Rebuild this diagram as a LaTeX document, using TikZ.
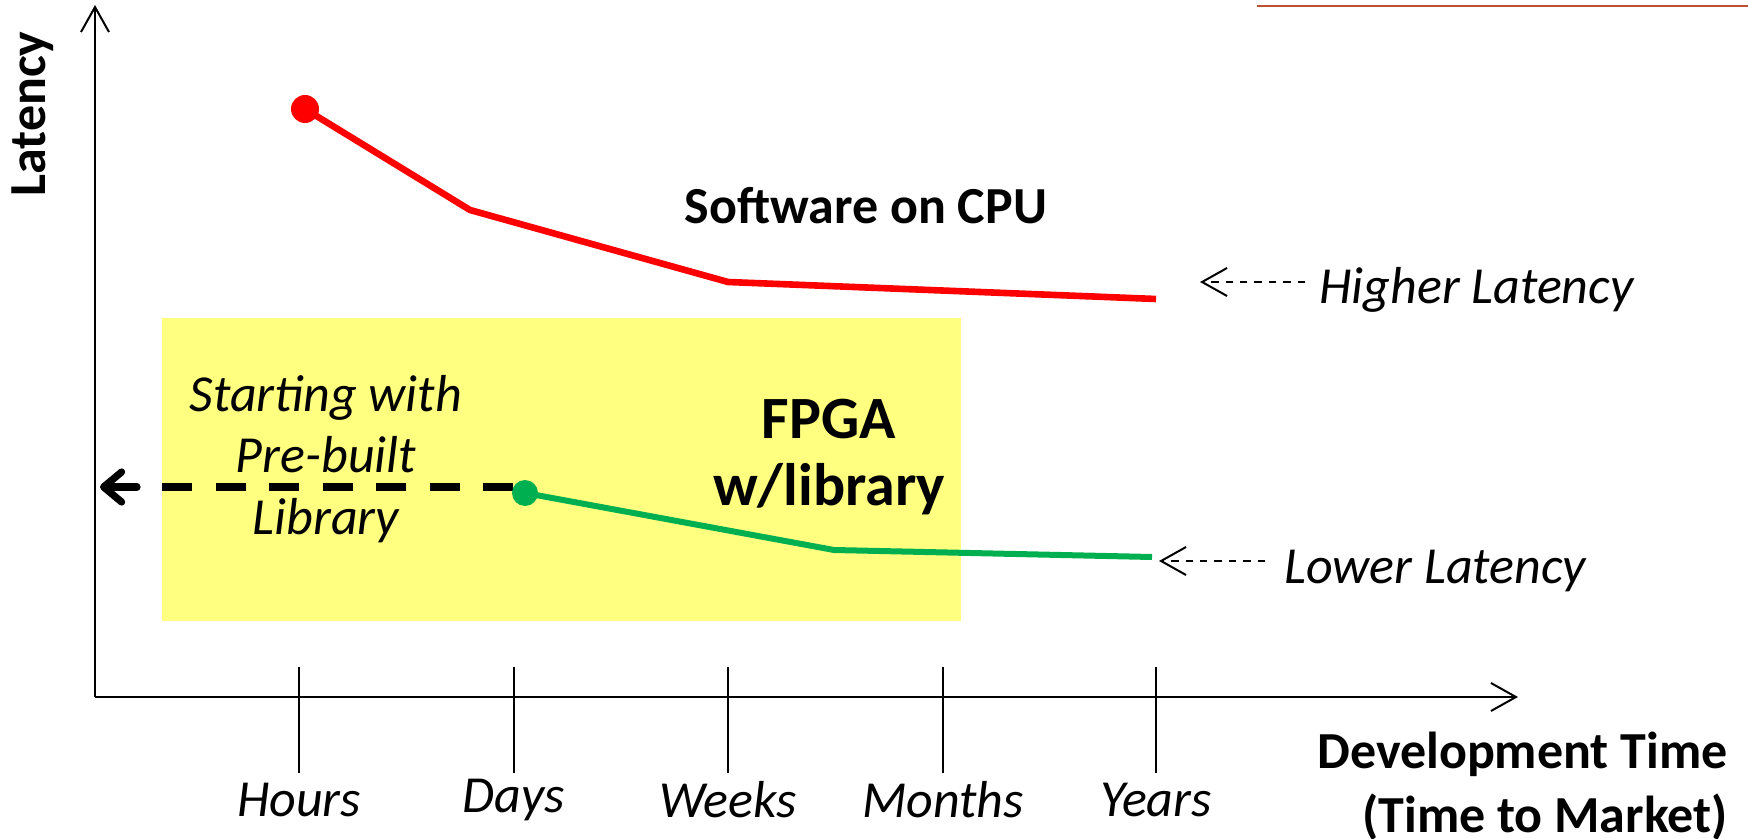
\documentclass[tikz,border=0pt]{standalone}
\usepackage{fontspec}
\setmainfont{Carlito}
\usetikzlibrary{arrows.meta}
\definecolor{cpured}{RGB}{255,0,0}
\definecolor{fpgagreen}{RGB}{0,176,80}
\definecolor{boxyellow}{RGB}{255,255,128}
\definecolor{topline}{RGB}{190,80,50}
\begin{document}
\begin{tikzpicture}[x=0.5pt,y=-0.5pt,
  axis/.style={line width=1pt,-{Straight Barb[length=12.5pt,width=14pt]}},
  tickline/.style={line width=0.75pt},
  lbl/.style={font=\fontsize{26}{31}\selectfont, inner sep=0pt},
  ticklbl/.style={lbl, font=\fontsize{26}{31}\selectfont\itshape},
  cpuline/.style={cpured, line width=3.3pt, line join=round},
  fpgaline/.style={fpgagreen, line width=3pt, line join=round},
  thinarrow/.style={line width=0.85pt, dash pattern=on 3.7pt off 3.5pt, -{Straight Barb[length=12.5pt,width=14pt,line width=1pt]}},
  thickdash/.style={line width=3.6pt, dash pattern=on 15pt off 11.75pt},
  thickhead/.style={line width=3.6pt, line cap=round, -{Straight Barb[length=9pt,width=15pt,line cap=round,line join=round]}},
]
\useasboundingbox (0,0) rectangle (1748,839);
% stray top line
\coordinate (tl1) at (1257,6);
\coordinate (tl2) at (1748,6);
\draw[topline, line width=0.75pt] (tl1) -- (tl2);
% yellow box
\node[fill=boxyellow, inner sep=0pt, minimum width=399.5pt, minimum height=151.5pt] (box) at (561.5,469.5) {};
% axes
\coordinate (O) at (95,697);
\coordinate (ytop) at (95,5);
\coordinate (xend) at (1518,697);
\draw[axis] (O) -- (ytop);
\draw[axis] (O) -- (xend);
% ticks and labels
\foreach \x/\t/\n in {299/Hours/th, 514/Days/td, 728/Weeks/tw, 943/Months/tm, 1156/Years/ty}{
  \coordinate (\n a) at (\x,667);
  \coordinate (\n b) at (\x,773);
  \draw[tickline] (\n a) -- (\n b);
  \node[ticklbl] (\n l) at (\x,800) {\t};
}
% axis titles
\node[lbl, font=\fontsize{26}{31}\selectfont\bfseries, rotate=90] (lat) at (33,114) {Latency};
\node[lbl, font=\fontsize{26}{31}\selectfont\bfseries, anchor=base east] (dev1) at (1728,768) {Development Time};
\node[lbl, font=\fontsize{26}{31}\selectfont\bfseries, anchor=base east] (dev2) at (1728,832) {(Time to Market)};
% CPU curve
\coordinate (r1) at (305,109);
\coordinate (r2) at (470,210);
\coordinate (r3) at (728,282);
\coordinate (r4) at (1156,299);
\draw[cpuline] (r1) -- (r2) -- (r3) -- (r4);
\fill[cpured] (r1) circle (7pt);
% FPGA curve
\coordinate (g1) at (525,493);
\coordinate (g2) at (834,550);
\coordinate (g3) at (1152,557);
\draw[fpgaline] (g1) -- (g2) -- (g3);
% dashed arrow to axis
\coordinate (ds) at (162,487);
\coordinate (de) at (520,487);
\coordinate (ah) at (137,487);
\coordinate (dt) at (100,487);
\draw[thickdash] (ds) -- (de);
\draw[thickhead] (ah) -- (dt);
\fill[fpgagreen] (g1) circle (6.5pt);
% labels
\node[lbl, font=\fontsize{26}{31}\selectfont\bfseries] (sw) at (866,206) {Software on CPU};
\node[lbl, font=\fontsize{30}{33.5}\selectfont\bfseries, align=center] (fpga) at (829,457) {FPGA\\w/library};
\node[lbl, font=\fontsize{26}{30.6}\selectfont\itshape, align=center] (start) at (326,459) {Starting with\\Pre-built\\Library};
\node[lbl, font=\fontsize{26}{31}\selectfont\itshape, anchor=base west] (hl) at (1319,304) {Higher Latency};
\node[lbl, font=\fontsize{26}{31}\selectfont\itshape, anchor=base west] (ll) at (1284,583) {Lower Latency};
\coordinate (hla) at (1305,282);
\coordinate (hlt) at (1200,282);
\coordinate (lla) at (1265,561);
\coordinate (llt) at (1159,561);
\draw[thinarrow] (hla) -- (hlt);
\draw[thinarrow] (lla) -- (llt);
\end{tikzpicture}
\end{document}
